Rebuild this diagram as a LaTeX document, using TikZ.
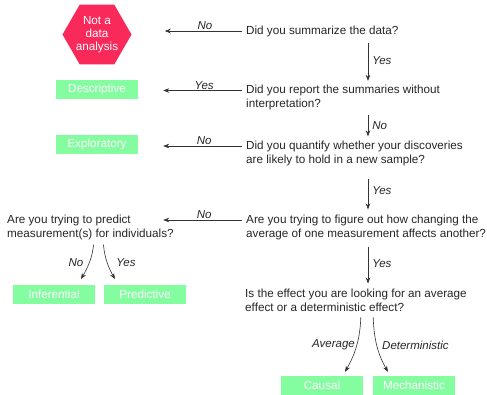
\documentclass[tikz,border=0pt]{standalone}
\usepackage{fontspec}
\setmainfont{Liberation Sans}
\usetikzlibrary{shapes.geometric,arrows.meta}
\definecolor{boxgreen}{HTML}{84FCA0}
\definecolor{hexred}{HTML}{F92A5A}
\definecolor{linegray}{HTML}{333333}
\begin{document}
\begin{tikzpicture}[x=1pt,y=-1pt,
  question/.style={anchor=west,align=left,inner sep=0pt,font=\fontsize{11.7}{14}\selectfont,text=black!85},
  result/.style={fill=boxgreen,text=white,minimum width=82pt,minimum height=19pt,inner sep=0pt,font=\fontsize{11.7}{14}\selectfont},
  arr/.style={draw=linegray,line width=0.6pt,-{Stealth[length=6pt,width=4.5pt]}},
  lab/.style={font=\fontsize{11.5}{13}\selectfont\itshape,text=black!85,inner sep=1pt}]
\useasboundingbox (0,0) rectangle (487,394);
\fill[white] (0,0) rectangle (487,394);
\coordinate (col) at (368,0);
% result nodes
\node[regular polygon,regular polygon sides=6,minimum size=66pt,inner sep=0pt,fill=hexred,text=white,align=center,font=\fontsize{11.7}{13}\selectfont] (hex) at (97,34.5) {Not a\\data\\analysis};
\node[result] (desc) at (97,89.5) {Descriptive};
\node[result] (expl) at (97,144.5) {Exploratory};
\node[result] (infer) at (54,294) {Inferential};
\node[result] (pred) at (145,294) {Predictive};
\node[result] (causal) at (322,385) {Causal};
\node[result] (mech) at (414,385) {Mechanistic};
% questions
\node[question] (q1) at (246,31) {Did you summarize the data?};
\node[question] (q2) at (246,97.5) {Did you report the summaries without\\interpretation?};
\node[question] (q3) at (246,153) {Did you quantify whether your discoveries\\are likely to hold in a new sample?};
\node[question] (q4) at (246,227) {Are you trying to figure out how changing the\\average of one measurement affects another?};
\node[question] (q5) at (7,227) {Are you trying to predict\\measurement(s) for individuals?};
\node[question] (q6) at (245,300) {Is the effect you are looking for an average\\effect or a deterministic effect?};
% horizontal arrows
\draw[arr,shorten <=4pt,shorten >=33pt] (q1.west) -- (q1.west -| hex.east) node[lab,midway,above,xshift=16pt] {No};
\draw[arr,shorten <=4pt,shorten >=25pt] ([yshift=7pt]q2.west) -- ([yshift=7pt]q2.west -| desc.east) node[lab,midway,above,xshift=12pt] {Yes};
\draw[arr,shorten <=4pt,shorten >=25pt] ([yshift=7pt]q3.west) -- ([yshift=7pt]q3.west -| expl.east) node[lab,midway,above,xshift=12pt] {No};
\draw[arr,shorten <=4pt,shorten >=25pt] ([yshift=7pt]q4.west) -- ([yshift=7pt]q4.west -| expl.east) node[lab,midway,above,xshift=12pt] {No};
% vertical arrows
\draw[arr,shorten <=6pt,shorten >=4pt] (q1.south -| col) -- (q2.north -| col) node[lab,midway,right,xshift=3pt] {Yes};
\draw[arr,shorten <=5pt,shorten >=4pt] (q2.south -| col) -- (q3.north -| col) node[lab,midway,right,xshift=3pt] {No};
\draw[arr,shorten <=13pt,shorten >=5pt] (q3.south -| col) -- (q4.north -| col) node[lab,midway,right,xshift=3pt,yshift=-1pt] {Yes};
\draw[arr,shorten <=7pt,shorten >=5pt] (q4.south -| col) -- (q6.north -| col) node[lab,midway,right,xshift=3pt] {Yes};
% curved arrows
\draw[arr,shorten <=5pt,shorten >=6pt] ([xshift=87pt]q5.south west) to[out=-95,in=60] ([xshift=24pt]infer.north) ;
\node[lab] at (76,263) {No};
\draw[arr,shorten <=5pt,shorten >=6pt] ([xshift=96pt]q5.south west) to[out=-85,in=120] ([xshift=-27pt]pred.north);
\node[lab] at (126,263) {Yes};
\draw[arr,shorten <=6pt,shorten >=4pt] ([xshift=116pt]q6.south west) to[out=-92,in=60] ([xshift=21pt]causal.north);
\node[lab,anchor=east] at (356,345) {Average};
\draw[arr,shorten <=6pt,shorten >=4pt] ([xshift=128pt]q6.south west) to[out=-88,in=120] ([xshift=-24pt]mech.north);
\node[lab,anchor=west] at (381,345) {Deterministic};
\end{tikzpicture}
\end{document}
